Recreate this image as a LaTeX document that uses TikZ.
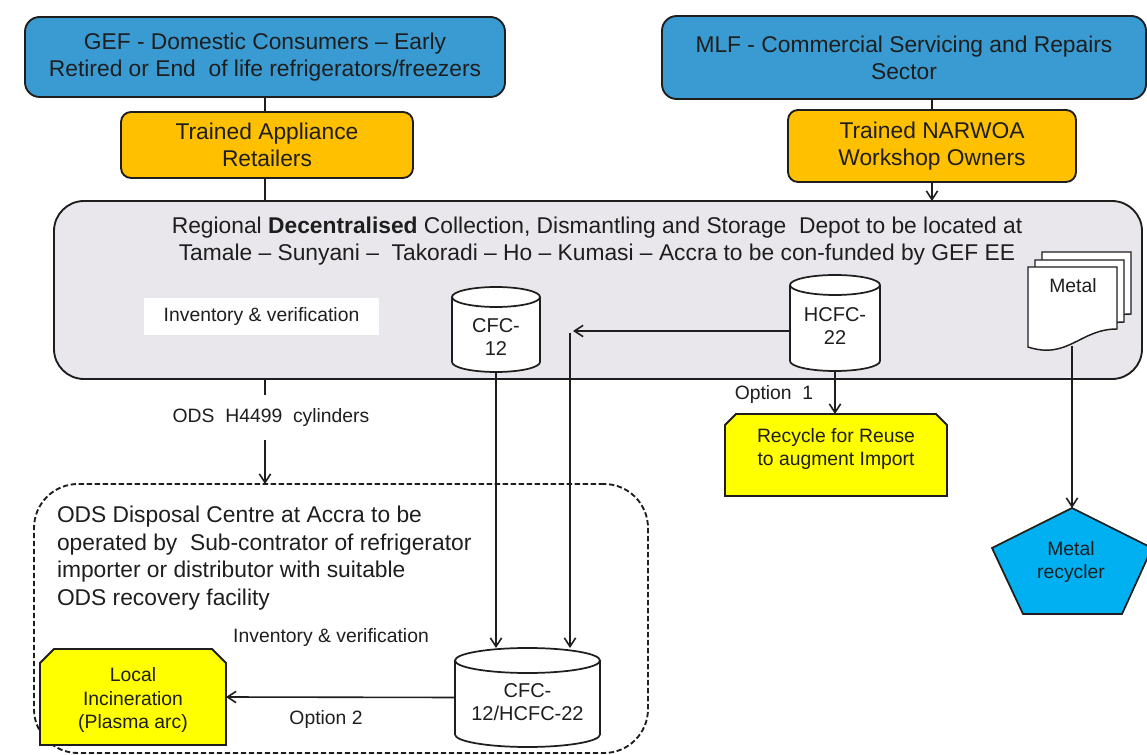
\documentclass[tikz,border=0pt]{standalone}
\usepackage{fontspec}
\setmainfont{Liberation Sans}
\usetikzlibrary{arrows.meta}
\definecolor{gefblue}{RGB}{58,155,210}
\definecolor{orng}{RGB}{255,192,0}
\definecolor{yel}{RGB}{255,255,0}
\definecolor{depotgray}{RGB}{233,231,236}
\definecolor{pentblue}{RGB}{0,176,240}
\definecolor{ink}{RGB}{30,30,30}
\newcommand\bigf{\fontsize{17.1pt}{20.25pt}\selectfont}
\newcommand\smf{\fontsize{14.5pt}{17.5pt}\selectfont}
\newcommand\cylf{\fontsize{15pt}{17.5pt}\selectfont}
\begin{document}
\begin{tikzpicture}[x=0.75pt,y=-0.75pt,
  every node/.style={inner sep=0pt, outer sep=0pt, text=ink},
  bluebox/.style={draw=ink, line width=1.4pt, fill=gefblue, rounded corners=11pt, align=center, font=\bigf},
  orgbox/.style={draw=ink, line width=1.4pt, fill=orng, rounded corners=7.5pt, align=center, font=\bigf},
  conn/.style={line width=1.2pt, draw=ink},
  arr/.style={conn, -{Straight Barb[length=6.5pt,width=8.5pt,line width=1.2pt]}},
  yelshape/.style={draw=ink, line width=1.4pt, fill=yel},
  cylshape/.style={draw=ink, line width=1.3pt, fill=white},
  cylline/.style={draw=ink, line width=1.3pt},
  pageshape/.style={draw=ink, line width=1.1pt, fill=white},
  lbl/.style={font=\smf, align=center},
  cyltext/.style={font=\cylf, align=center}]
\useasboundingbox (0,0) rectangle (1147,755);

% top boxes
\node[bluebox, minimum width=360pt, minimum height=60pt] (gef) at (265,57) {GEF - Domestic Consumers -- Early\\Retired or End~ of life refrigerators/freezers};
\node[bluebox, minimum width=363pt, minimum height=62.25pt] (mlf) at (904,57.5) {MLF - Commercial Servicing and Repairs\\Sector};
\node[orgbox, minimum width=219pt, minimum height=49.5pt] (tap) at (267,145) {Trained Appliance\\Retailers};
\node[orgbox, minimum width=216pt, minimum height=54pt] (narwoa) at (932,146) {Trained NARWOA\\Workshop Owners};

% depot
\node[draw=ink, line width=1.4pt, fill=depotgray, rounded corners=22.5pt, minimum width=816pt, minimum height=133.5pt] (depot) at (598,290) {};
\node[font=\bigf, align=center] (deptitle) at (597,241) {Regional \textbf{Decentralised} Collection, Dismantling and Storage~ Depot to be located at\\Tamale -- Sunyani --~ Takoradi -- Ho -- Kumasi -- Accra to be con-funded by GEF EE};
\node[fill=white, minimum width=176.25pt, minimum height=27.75pt, font=\smf] (inv1) at (261.5,316.5) {Inventory \& verification};

% CFC-12 cylinder
\draw[cylshape] (496,362) ellipse [x radius=33pt, y radius=7.5pt];
\fill[white] (452,297) rectangle (540,362);
\draw[cylline] (452,297) -- (452,362) (540,297) -- (540,362);
\draw[cylshape] (496,297) ellipse [x radius=33pt, y radius=7.5pt];
\node[minimum width=66pt, minimum height=63.75pt] (cfc) at (496,329.5) {};
\node[cyltext] (cfct) at (496,337) {CFC-\\12};

% HCFC-22 cylinder
\draw[cylshape] (835,361) ellipse [x radius=33.75pt, y radius=7.5pt];
\fill[white] (790,285) rectangle (880,361);
\draw[cylline] (790,285) -- (790,361) (880,285) -- (880,361);
\draw[cylshape] (835,285) ellipse [x radius=33.75pt, y radius=7.5pt];
\node[minimum width=67.5pt, minimum height=72pt] (hcfc) at (835,323) {};
\node[cyltext] (hcfct) at (835,326) {HCFC-\\22};

% Metal document stack
\begin{scope}[shift={(14,-15)}]
\draw[pageshape] (1028,267) -- (1117,267) -- (1117,329) .. controls (1080,329) and (1068,360) .. (1028,347) -- cycle;
\end{scope}
\begin{scope}[shift={(7,-7)}]
\draw[pageshape] (1028,267) -- (1117,267) -- (1117,329) .. controls (1080,329) and (1068,360) .. (1028,347) -- cycle;
\end{scope}
\coordinate (metalbot) at (1072,346);
\coordinate (penttop) at (1072,508);
\draw[arr] (metalbot) -- (penttop);
\draw[pageshape] (1028,267) -- (1117,267) -- (1117,329) .. controls (1080,329) and (1068,360) .. (1028,347) -- cycle;
\node[font=\smf] (metal) at (1073,286) {Metal};

% Recycle box
\draw[yelshape] (725,425) -- (736,414) -- (936,414) -- (947,425) -- (947,496) -- (725,496) -- cycle;
\node[minimum width=166.5pt, minimum height=61.5pt] (recycle) at (836,455) {};
\node[lbl] (recyclet) at (836,449) {Recycle for Reuse\\to augment Import};

% Metal recycler pentagon
\draw[draw=ink, line width=1.3pt, fill=pentblue] (1072,508) -- (1152,548) -- (1122,614) -- (1023,614) -- (992,548) -- cycle;
\node[lbl] (metrec) at (1071,562) {Metal\\recycler};

% ODS disposal centre
\node[draw=ink, dash pattern=on 4pt off 2pt, line width=1.4pt, rounded corners=33pt, minimum width=460.5pt, minimum height=201.75pt] (ods) at (341,618.5) {};
\node[font={\fontsize{17.1pt}{20.8pt}\selectfont}, align=left, anchor=west] (odstext) at (57,558) {ODS Disposal Centre at Accra to be\\operated by~ Sub-contrator of refrigerator\\importer or distributor with suitable\\ODS recovery facility};
\node[lbl] (inv2) at (331,638) {Inventory \& verification};

% bottom cylinder
\draw[cylshape] (527.5,734.5) ellipse [x radius=54.375pt, y radius=9.375pt];
\fill[white] (455,660.5) rectangle (600,734.5);
\draw[cylline] (455,660.5) -- (455,734.5) (600,660.5) -- (600,734.5);
\draw[cylshape] (527.5,660.5) ellipse [x radius=54.375pt, y radius=9.375pt];
\node[minimum width=108.75pt, minimum height=74.25pt] (cyl3) at (527.5,697.5) {};
\node[cyltext] (cyl3t) at (527.5,702) {CFC-\\12/HCFC-22};

% Local incineration
\draw[yelshape] (40,663) -- (54,649) -- (212,649) -- (226,663) -- (226,745) -- (40,745) -- cycle;
\node[minimum width=139.5pt, minimum height=72pt] (local) at (133,697) {};
\node[lbl] (localt) at (133,700) {Local\\Incineration\\(Plasma arc)};

% connectors
\draw[conn] (gef.south) -- (gef.south |- tap.north);
\draw[conn] (gef.south |- tap.south) -- (gef.south |- depot.north);
\draw[conn] (narwoa.north |- mlf.south) -- (narwoa.north);
\draw[arr] (narwoa.south) -- (narwoa.south |- depot.north);
\draw[arr] (gef.south |- depot.south) -- node[pos=0.367, fill=white, minimum height=33.75pt, xshift=4.5pt, font=\smf] (odslbl) {ODS~~H4499~~cylinders} (gef.south |- ods.north);
\draw[arr] (cfc.south) -- (cfc.south |- cyl3.north);
\coordinate (elbow) at (570,331);
\draw[arr] (hcfc.west |- elbow) -- ([xshift=2.25pt]elbow);
\draw[arr] ([yshift=-1.5pt]elbow) -- (elbow |- cyl3.north);
\draw[arr] (hcfc.south) -- (hcfc.south |- recycle.north);
\node[lbl] (opt1) at (774,395) {Option~~1};
\draw[arr] (cyl3.west) -- (local.east);
\node[lbl] (opt2) at (326,720) {Option 2};
\end{tikzpicture}
\end{document}
